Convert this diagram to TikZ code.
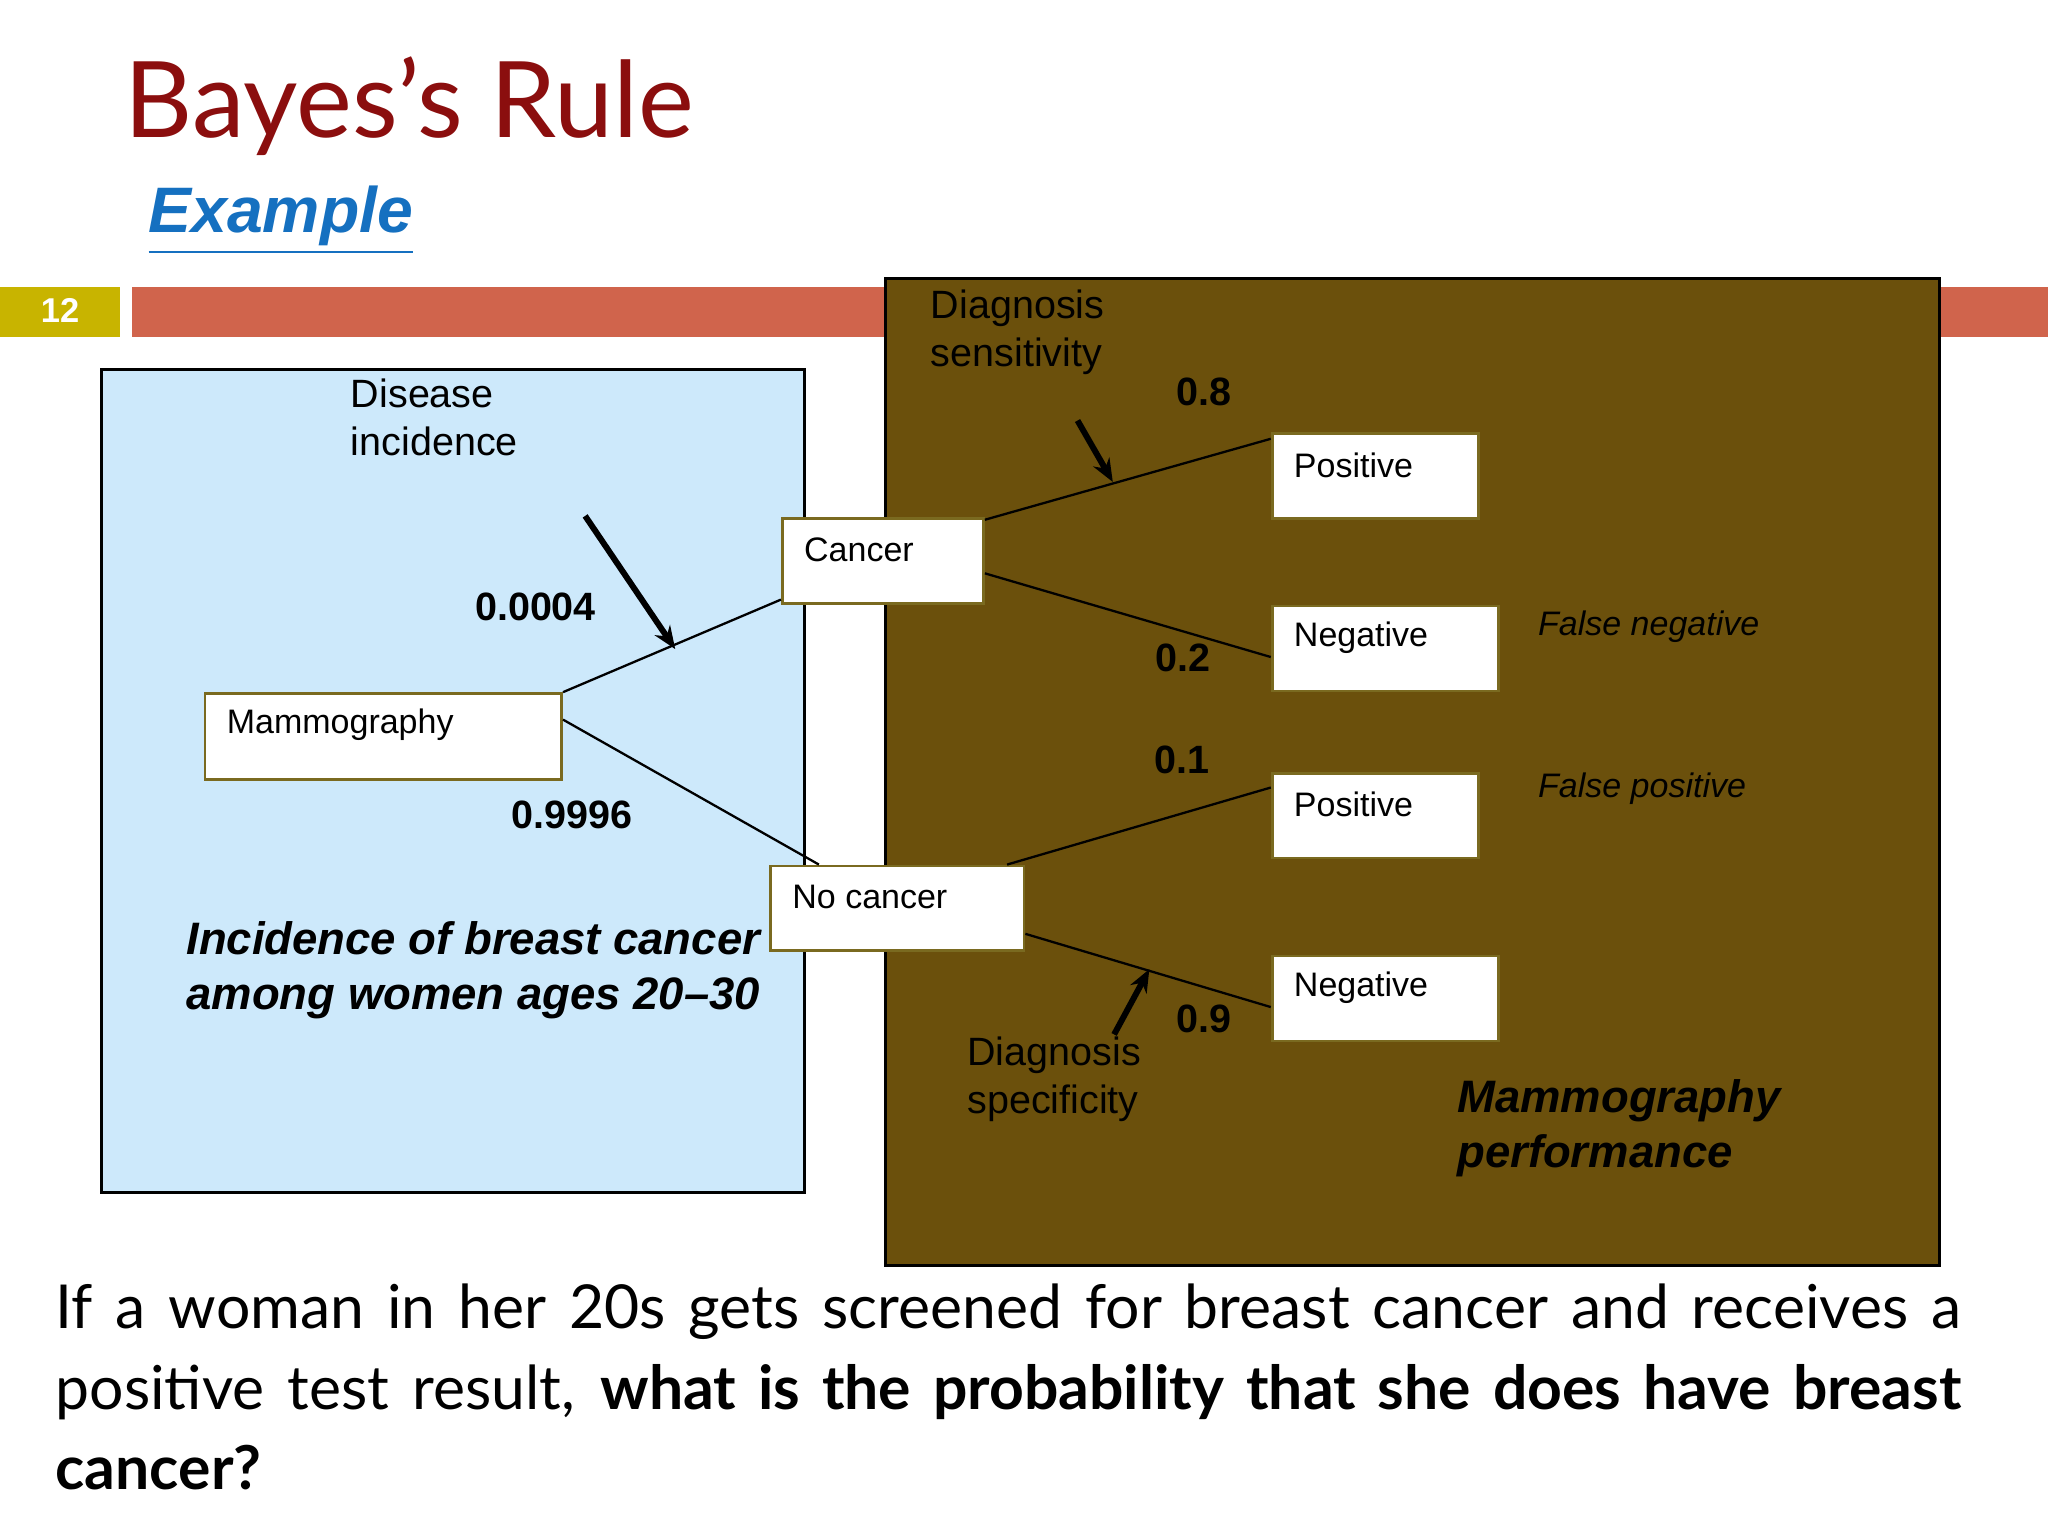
\documentclass[tikz,border=0pt]{standalone}
\usepackage{fontspec}
\setmainfont{Liberation Sans}
\newfontfamily\lato{Lato}
\usetikzlibrary{fit,arrows.meta}
\definecolor{titlered}{HTML}{8B0E0E}
\definecolor{exblue}{HTML}{1570C0}
\definecolor{baryel}{HTML}{C8B400}
\definecolor{barred}{HTML}{D0644C}
\definecolor{lblue}{HTML}{CDE9FB}
\definecolor{brown}{HTML}{6B500C}
\definecolor{olive}{HTML}{7A6A20}
\tikzset{
 box/.style={draw=olive,fill=white,inner sep=0pt,line width=0.6pt},
 boxtxt/.style={anchor=west,inner sep=0pt,font=\fontsize{7.4}{9}\selectfont},
 lab/.style={anchor=north west,inner sep=0pt,align=left,font=\fontsize{8.6}{10.6}\selectfont},
 num/.style={inner sep=0pt,font=\fontsize{8.6}{10}\selectfont\bfseries},
 conn/.style={line width=0.5pt},
 arr/.style={line width=1.3pt,-{Stealth[length=5pt,width=4pt]}},
 fnote/.style={anchor=west,inner sep=0pt,font=\fontsize{7.4}{9}\selectfont\itshape},
 big/.style={anchor=north west,inner sep=0pt,align=left,font=\fontsize{9.9}{12}\selectfont\bfseries\itshape}
}
\begin{document}
\begin{tikzpicture}[x=0.01cm,y=-0.01cm]
\useasboundingbox (0,0) rectangle (1568,1176);
\fill[white] (0,0) rectangle (1568,1176);
\node[anchor=base west,inner sep=0,text=titlered,font=\lato\fontsize{23}{26}\selectfont] (title) at (95,105) {Bayes’s Rule};
\node[anchor=base west,inner sep=0,text=exblue,font=\fontsize{14}{16}\selectfont\bfseries\itshape] (ex) at (113,178) {\underline{Example}};
\fill[baryel] (0,220) rectangle (92,258);
\node[text=white,font=\fontsize{7.5}{9}\selectfont\bfseries] (pg) at (46,238) {12};
\fill[barred] (101,220) rectangle (1568,258);
\draw[fill=lblue,line width=0.6pt] (78,283) rectangle (616,913);
\draw[fill=brown,line width=0.6pt] (678,213) rectangle (1485,969);
% boxes
\node[box,fit={(157,531)(430,597)}] (mam) {};
\node[box,fit={(599,397)(753,462)}] (can) {};
\node[box,fit={(590,663)(784,728)}] (noc) {};
\node[box,fit={(974,332)(1132,397)}] (p1) {};
\node[box,fit={(974,464)(1147,529)}] (n1) {};
\node[box,fit={(974,592)(1132,657)}] (p2) {};
\node[box,fit={(974,732)(1147,797)}] (n2) {};
\node[boxtxt] at (173,555) {Mammography};
\node[boxtxt] at (615,421) {Cancer};
\node[boxtxt] at (606,687) {No cancer};
\node[boxtxt] at (990,356) {Positive};
\node[boxtxt] at (990,488) {Negative};
\node[boxtxt] at (990,616) {Positive};
\node[boxtxt] at (990,756) {Negative};
% connectors
\draw[conn] (mam.north east) -- ([yshift=0.04cm]can.south west);
\draw[conn] ([yshift=-0.21cm]mam.north east) -- ([xshift=0.38cm]noc.north west);
\draw[conn] ([yshift=-0.02cm]can.north east) -- ([yshift=-0.05cm]p1.north west);
\draw[conn] ([yshift=-0.43cm]can.north east) -- ([yshift=0.27cm]n1.south west);
\draw[conn] ([xshift=-0.14cm]noc.north east) -- ([yshift=-0.12cm]p2.north west);
\draw[conn] ([yshift=-0.53cm]noc.north east) -- ([yshift=0.27cm]n2.south west);
% arrows
\coordinate (a1) at (448,395); \coordinate (a1e) at (517,497);
\coordinate (a2) at (825,322); \coordinate (a2e) at (852,369);
\coordinate (a3) at (853,792); \coordinate (a3e) at (880,742);
\draw[arr] (a1) -- (a1e);
\draw[arr] (a2) -- (a2e);
\draw[arr] (a3) -- (a3e);
% labels
\node[num] at (410,465) {0.0004};
\node[num] at (438,624) {0.9996};
\node[num] at (922,300) {0.8};
\node[num] at (906,504) {0.2};
\node[num] at (905,582) {0.1};
\node[num] at (922,780) {0.9};
\node[lab] at (268,289) {Disease\\incidence};
\node[lab] at (712,221) {Diagnosis\\sensitivity};
\node[lab] at (740,793) {Diagnosis\\specificity};
\node[fnote] at (1177,480) {False negative};
\node[fnote] at (1177,604) {False positive};
\node[big] at (142,705) {Incidence of breast cancer\\among women ages 20–30};
\node[big] at (1115,826) {Mammography\\performance};
% paragraph
\node[anchor=north west,inner sep=0,text width=14.58cm,align=justify,font=\lato\fontsize{13.2}{17.6}\selectfont] (para) at (42,982)
{If a woman in her 20s gets screened for breast cancer and receives a positive test result, \textbf{what is the probability that she does have breast cancer?}};
\end{tikzpicture}
\end{document}
